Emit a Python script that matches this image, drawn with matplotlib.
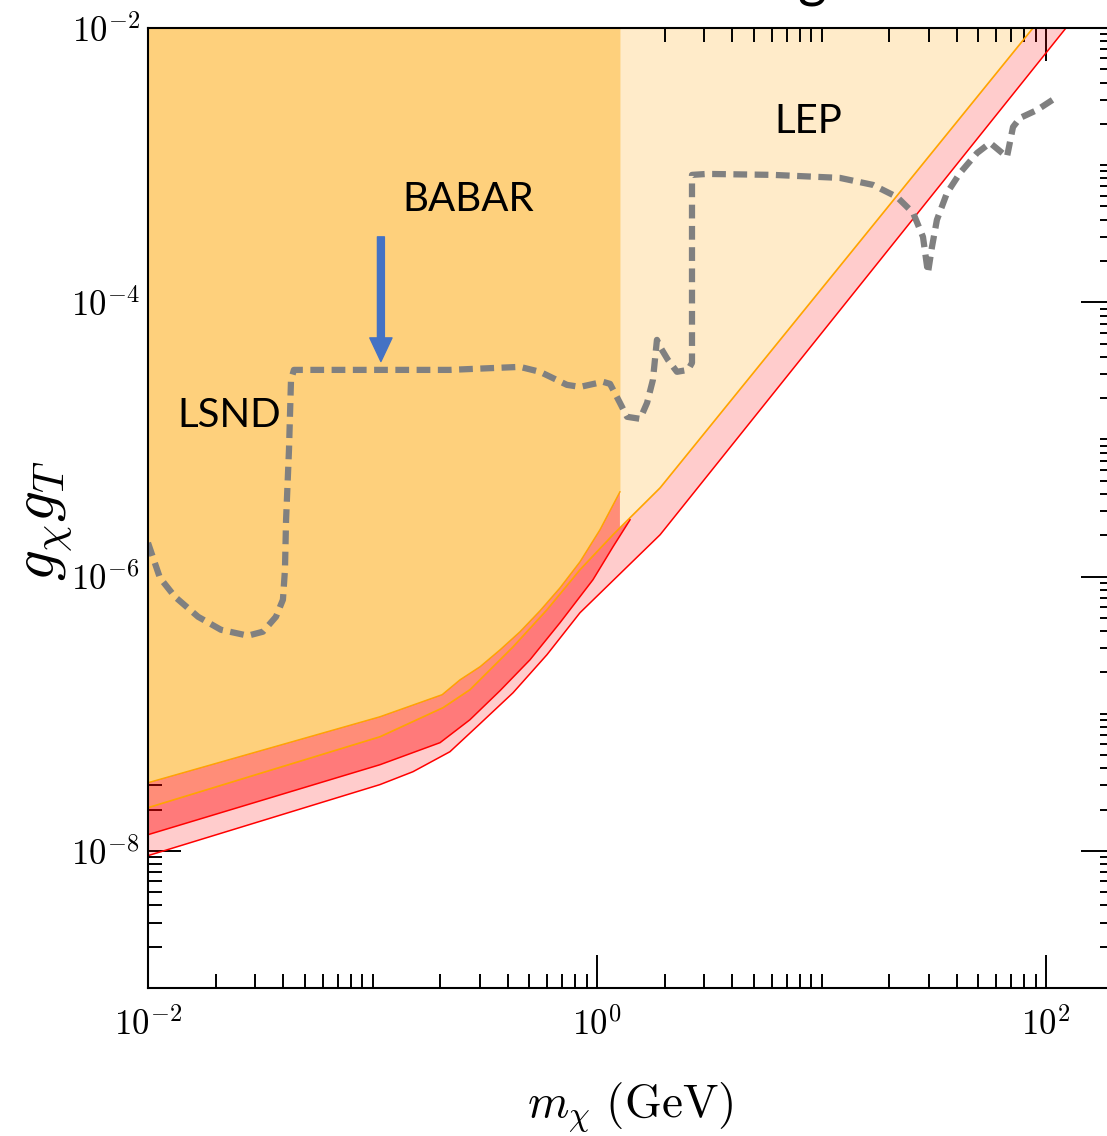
import math
import matplotlib
matplotlib.use('Agg')
import matplotlib.pyplot as plt
from matplotlib.ticker import FixedLocator, FuncFormatter, NullFormatter

plt.rcParams['mathtext.fontset'] = 'cm'

# dashed limit curve (LSND / BABAR / LEP reach)
dash_m = [0.0100, 0.01130, 0.01318, 0.01671, 0.02113, 0.02786, 0.03251, 0.03715, 0.03990, 0.04074,
          0.04121, 0.04246, 0.04335, 0.04467, 0.05834, 0.2213, 0.4539, 0.5572, 0.7345, 0.8395,
          1.064, 1.143, 1.265, 1.361, 1.556, 1.671, 1.774, 1.849, 1.910, 2.070,
          2.270, 2.541, 2.649, 2.649, 3.090, 6.081, 12.08, 16.94, 21.68, 25.59,
          28.31, 29.79, 31.05, 32.66, 36.22, 41.40, 49.32, 56.36, 66.99, 71.29,
          76.56, 91.20, 111.9]
dash_g = [1.762e-6, 9.795e-7, 7.129e-7, 5.093e-7, 4.093e-7, 3.707e-7, 3.963e-7, 5.093e-7, 6.776e-7, 1.122e-6,
          2.594e-6, 8.395e-6, 2.716e-5, 3.214e-5, 3.214e-5, 3.214e-5, 3.381e-5, 3.112e-5, 2.500e-5, 2.415e-5,
          2.630e-5, 2.541e-5, 1.849e-5, 1.462e-5, 1.413e-5, 1.849e-5, 2.716e-5, 5.321e-5, 4.732e-5, 3.802e-5,
          3.112e-5, 3.214e-5, 3.614e-5, 8.492e-4, 8.630e-4, 8.492e-4, 8.072e-4, 7.178e-4, 5.861e-4, 4.487e-4,
          2.999e-4, 1.637e-4, 2.535e-4, 3.990e-4, 6.266e-4, 8.770e-4, 1.227e-3, 1.452e-3, 1.148e-3, 1.897e-3,
          2.208e-3, 2.523e-3, 3.141e-3]

# LEP / BABAR lower edge (orange line)
lep_m = [0.01, 0.1079, 0.2061, 0.2716, 0.4227, 0.5984, 0.8395, 1.178, 1.403, 1.910, 87.5, 200]
lep_g = [2.065e-8, 6.792e-8, 1.107e-7, 1.496e-7, 3.076e-7, 5.728e-7, 1.122e-6, 2.018e-6, 2.685e-6,
         4.436e-6, 1e-2, 5.25e-2]

# BABAR region lower edge = top of dark band (ends at m = 1.265 GeV)
babar_m = [0.01, 0.1079, 0.2042, 0.2455, 0.3013, 0.3698, 0.4539, 0.5572, 0.6839, 0.8395, 1.030, 1.265]
babar_g = [3.141e-8, 9.506e-8, 1.377e-7, 1.770e-7, 2.203e-7, 2.924e-7, 3.963e-7, 5.636e-7, 8.279e-7,
           1.282e-6, 2.193e-6, 4.150e-6]

# closing points of dark band at its right end
bandA_end_m = [1.265, 1.403]
bandA_end_g = [2.24e-6, 2.60e-6]

# lower edge of dark band (red line)
bandA_low_m = [0.01, 0.1079, 0.2000, 0.2716, 0.3698, 0.5035, 0.6839, 0.9594, 1.178, 1.403]
bandA_low_g = [1.312e-8, 4.246e-8, 6.152e-8, 9.036e-8, 1.472e-7, 2.477e-7, 4.603e-7, 9.484e-7,
               1.648e-6, 2.594e-6]

# lower edge of light band (red line)
bandB_low_m = [0.01, 0.1079, 0.1514, 0.2213, 0.3013, 0.4227, 0.5984, 0.8395, 1.265, 1.910, 122.7, 200]
bandB_low_g = [9.226e-9, 3.041e-8, 3.776e-8, 5.284e-8, 8.453e-8, 1.422e-7, 2.692e-7, 5.445e-7,
               1.047e-6, 2.018e-6, 1e-2, 2.723e-2]

xmin, xmax = 1e-2, 200
ymin, ymax = 1e-9, 1e-2

fig = plt.figure(figsize=(11.07, 11.36), dpi=100)
ax = fig.add_axes([148/1107, 148/1136, 965.6/1107, 960/1136])
ax.set_xscale('log')
ax.set_yscale('log')

# LEP (light) above orange line, BABAR (darker) on the left
ax.fill_between(lep_m, lep_g, ymax * 10, color='#FFEBC9', lw=0, zorder=1)
ax.fill_between(babar_m, babar_g, ymax * 10, color='#FED07C', lw=0, zorder=2)

# light red band between orange line and lower red line
ax.fill(lep_m + bandB_low_m[::-1], lep_g + bandB_low_g[::-1], color='red', alpha=0.2, lw=0, zorder=3)
# darker band
ax.fill(babar_m + bandA_end_m + bandA_low_m[::-1], babar_g + bandA_end_g + bandA_low_g[::-1],
        color='red', alpha=0.4, lw=0, zorder=4)

ax.plot(lep_m, lep_g, color='orange', lw=1.2, zorder=5)
ax.plot(babar_m, babar_g, color='orange', lw=1.0, zorder=5)
ax.plot(bandA_low_m, bandA_low_g, color='red', lw=1.1, zorder=5)
ax.plot(bandB_low_m, bandB_low_g, color='red', lw=1.1, zorder=5)

ax.plot(dash_m, dash_g, color='#808080', lw=4.5, ls=(0, (2.2, 1.2)), zorder=6)

ax.text(8.7, 2.07e-3, 'LEP', fontsize=29, family='Lato', ha='center', va='center', zorder=7)
ax.text(0.266, 5.57e-4, 'BABAR', fontsize=29, family='Lato', ha='center', va='center', zorder=7)
ax.text(0.0230, 1.49e-5, 'LSND', fontsize=29, family='Lato', ha='center', va='center', zorder=7)

ax.annotate('', xy=(0.109, 3.7e-5), xytext=(0.109, 3.0e-4),
            arrowprops=dict(color='#4472C4', width=5, headwidth=16, headlength=17, shrink=0), zorder=7)

ax.set_xlim(xmin, xmax)
ax.set_ylim(ymin, ymax)

ax.xaxis.set_major_locator(FixedLocator([1e-2, 1e0, 1e2]))
ax.xaxis.set_minor_locator(FixedLocator([s * 10.0**k for k in range(-2, 3) for s in range(1, 10)
                                         if not (s == 1 and k % 2 == 0)]))
ax.yaxis.set_major_locator(FixedLocator([1e-8, 1e-6, 1e-4, 1e-2]))
ax.yaxis.set_minor_locator(FixedLocator([s * 10.0**k for k in range(-9, -2) for s in range(1, 10)
                                         if not (s == 1 and k % 2 == 0)]))
fmt = FuncFormatter(lambda v, p: r'$10^{%d}$' % round(math.log10(v)))
ax.xaxis.set_major_formatter(fmt)
ax.yaxis.set_major_formatter(fmt)
ax.xaxis.set_minor_formatter(NullFormatter())
ax.yaxis.set_minor_formatter(NullFormatter())

ax.tick_params(which='both', direction='in', top=True, right=True, width=1.4, labelsize=25)
ax.tick_params(which='major', length=24)
ax.tick_params(which='minor', length=10)
ax.tick_params(axis='x', which='major', pad=14)
ax.tick_params(axis='y', which='major', pad=6)
for sp in ax.spines.values():
    sp.set_linewidth(1.5)
    sp.set_zorder(8)

ax.set_xlabel(r'$m_\chi\ (\mathrm{GeV})$', fontsize=34, va='top')
ax.xaxis.set_label_coords(0.499, -0.097)
ax.set_ylabel(r'$g_\chi g_T$', fontsize=44, va='center')
ax.yaxis.set_label_coords(-0.107, 0.4875)

# title above the plot, mostly cropped in the reference
fig.text(0.7335, 1.004, 'g', fontsize=40, family='Lato', ha='center', va='baseline')

fig.savefig('out.png', dpi=100)
